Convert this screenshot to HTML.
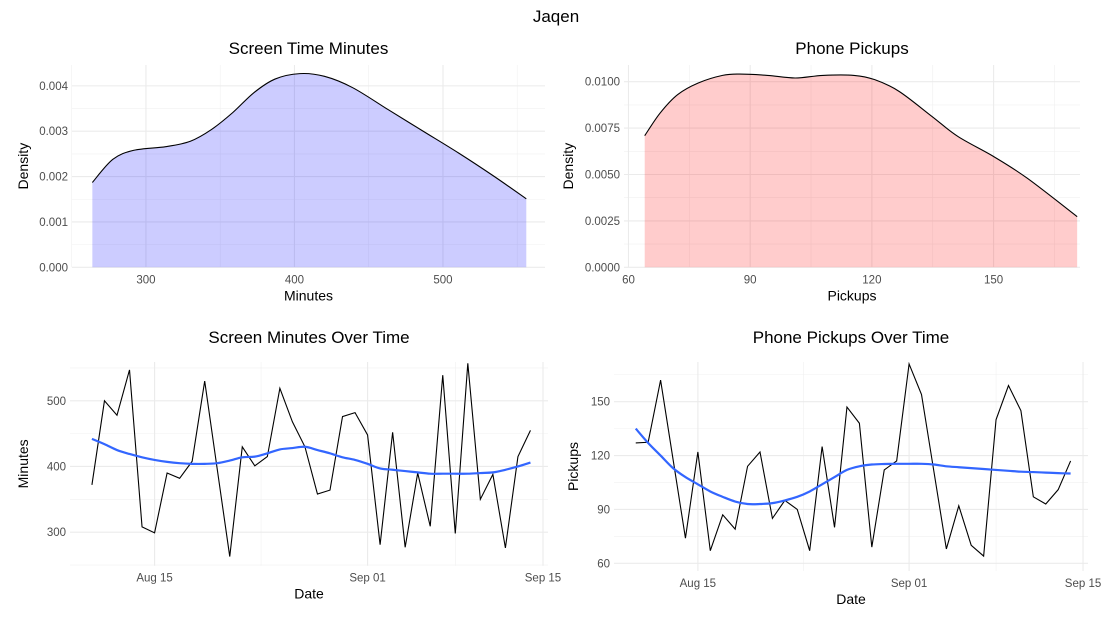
<!DOCTYPE html>
<html><head><meta charset="utf-8"><style>
html,body{margin:0;padding:0;background:#fff;}
svg{display:block;font-family:"Liberation Sans",Arial,sans-serif;}
</style></head><body>
<svg id="chart" width="1112" height="618" viewBox="0 0 1112 618" xmlns="http://www.w3.org/2000/svg">
<text x="556" y="22" text-anchor="middle" font-size="17" fill="#000">Jaqen</text>
</svg>
<script>
// ---- Data: Screen time density ----
const stDensX = [263.9,277.7,291.9,313.3,329.9,344.2,358.4,372.7,386.9,403.6,420.2,439.2,462.9,486.7,510.5,534.2,556.1];
const stDensY = [0.00187,0.00238,0.00258,0.00266,0.00278,0.00304,0.00341,0.00385,0.00415,0.00427,0.00421,0.00396,0.00348,0.00300,0.00252,0.00201,0.00151];
const stDensXTicks = [300,400,500];
const stDensYTicks = [0,0.001,0.002,0.003,0.004];
const stDensYLabels = ["0.000","0.001","0.002","0.003","0.004"];
// ---- Data: Pickups density ----
const pkDensX = [64,67.8,72.1,77.2,83.2,87.4,94.3,101.1,107.9,115.6,120.7,126.7,134.8,141.2,150,158.3,170.6];
const pkDensY = [0.00709,0.00831,0.0093,0.00993,0.01034,0.01041,0.01034,0.0102,0.01034,0.01034,0.01011,0.00948,0.00813,0.00705,0.00597,0.0048,0.00273];
const pkDensXTicks = [60,90,120,150];
const pkDensYTicks = [0,0.0025,0.005,0.0075,0.01];
const pkDensYLabels = ["0.0000","0.0025","0.0050","0.0075","0.0100"];
// ---- Data: time series (day offsets from Aug 10) ----
const dayIndex = [0,1,2,3,4,5,6,7,8,9,10,11,12,13,14,15,16,17,18,19,20,21,22,23,24,25,26,27,28,29,30,31,32,33,34,35];
const minutesSeries = [372,500,478,547,308,299,390,382,408,530,396,263,430,401,415,519,468,430,358,364,476,482,448,281,452,277,390,309,539,298,557,350,388,276,415,455];
const minutesSmooth = [442,434,425,419,414,410,407,405,404,404,405,409,414,415,420,426,428,430,425,420,414,410,404,397,395,393,391,389,389,389,389,390,391,395,400,406];
const pickupsSeries = [127,127.4,162,118,74,122,67,87,79,114,122,85,95,90,67,125,80,147,138,69,112,117,171,154,111,68,92,70,64,140,159,145,97,93,101,117];
const pickupsSmooth = [135,127,120,113,108,104,100,97,94.4,93,93,93.5,95,97,100,104,108,112,114,115,115.3,115.4,115.4,115.4,115,114,113.5,113,112.5,112,111.5,111,110.8,110.5,110.2,110];
const dateTicks = [5,22,36];
const dateTickLabels = ["Aug 15","Sep 01","Sep 15"];
const minTicks = [300,400,500];
const pkTicks = [60,90,120,150];

const svg = document.getElementById('chart');
const NS = 'http://www.w3.org/2000/svg';
function mk(tag, attrs, parent){const e=document.createElementNS(NS,tag);for(const k in attrs)e.setAttribute(k,attrs[k]);(parent||svg).appendChild(e);return e;}
function lin(d0,d1,r0,r1){return v=>r0+(v-d0)/(d1-d0)*(r1-r0);}
function smoothPath(pts){
  let d=`M${pts[0][0]},${pts[0][1]}`;
  for(let i=0;i<pts.length-1;i++){
    const p0=pts[i-1]||pts[i],p1=pts[i],p2=pts[i+1],p3=pts[i+2]||p2;
    const c1=[p1[0]+(p2[0]-p0[0])/6,p1[1]+(p2[1]-p0[1])/6];
    const c2=[p2[0]-(p3[0]-p1[0])/6,p2[1]-(p3[1]-p1[1])/6];
    d+=`C${c1[0]},${c1[1]} ${c2[0]},${c2[1]} ${p2[0]},${p2[1]}`;
  }
  return d;
}

function panel(cfg){
  const g=mk('g',{});
  
  
  const sx=lin(cfg.xd[0],cfg.xd[1],cfg.x0,cfg.x1), sy=lin(cfg.yd[0],cfg.yd[1],cfg.y0,cfg.y1);
  const minorX=[],minorY=[];
  for(let i=0;i<cfg.xt.length-1;i++)minorX.push((cfg.xt[i]+cfg.xt[i+1])/2);
  if(cfg.xt.length>1){const s=cfg.xt[1]-cfg.xt[0];minorX.push(cfg.xt[0]-s/2);minorX.push(cfg.xt[cfg.xt.length-1]+s/2);}
  for(let i=0;i<cfg.yt.length-1;i++)minorY.push((cfg.yt[i]+cfg.yt[i+1])/2);
  if(cfg.yt.length>1){const s=cfg.yt[1]-cfg.yt[0];minorY.push(cfg.yt[0]-s/2);minorY.push(cfg.yt[cfg.yt.length-1]+s/2);}
  const L=Math.min(cfg.x0,cfg.x1),R=Math.max(cfg.x0,cfg.x1),T=cfg.y1,B=cfg.y0;
  minorX.forEach(v=>{const x=sx(v);if(x>=L-0.5&&x<=R+0.5){const l=mk('line',{x1:x,x2:x,y1:T,y2:B,stroke:'#f0f0f0','stroke-width':0.6},g);}});
  minorY.forEach(v=>{const y=sy(v);if(y>=T-0.5&&y<=B+0.5){const l=mk('line',{x1:L,x2:R,y1:y,y2:y,stroke:'#f0f0f0','stroke-width':0.6},g);}});
  cfg.xt.forEach((v,i)=>{const x=sx(v);
    const l=mk('line',{x1:x,x2:x,y1:T,y2:B,stroke:'#ebebeb','stroke-width':1.1},g);
    
    const t=mk('text',{x:x,y:B+16,'text-anchor':'middle','font-size':11.5,fill:'#4d4d4d'},g);t.textContent=cfg.xl[i];
    });
  cfg.yt.forEach((v,i)=>{const y=sy(v);
    const l=mk('line',{x1:L,x2:R,y1:y,y2:y,stroke:'#ebebeb','stroke-width':1.1},g);
    
    const t=mk('text',{x:L-4,y:y+4,'text-anchor':'end','font-size':11.5,fill:'#4d4d4d'},g);t.textContent=cfg.yl[i];
    });
  const tt=mk('text',{x:(L+R)/2,y:cfg.titleY,'text-anchor':'middle','font-size':17,fill:'#000'},g);tt.textContent=cfg.title;
  
  const xt=mk('text',{x:(L+R)/2,y:B+33,'text-anchor':'middle','font-size':14,fill:'#000'},g);xt.textContent=cfg.xlab;
  
  const yx=cfg.ylabX,yy=(T+B)/2;
  const yt=mk('text',{x:yx,y:yy,'text-anchor':'middle','font-size':14,fill:'#000',transform:`rotate(-90 ${yx} ${yy})`},g);yt.textContent=cfg.ylab;
  
  return {g,sx,sy};
}

function densityMarks(p,xs,ys,color){
  const pts=xs.map((x,i)=>[p.sx(x),p.sy(ys[i])]);
  const curve=smoothPath(pts);
  const d=`M${pts[0][0]},${p.sy(0)}L`+curve.slice(1)+`L${pts[pts.length-1][0]},${p.sy(0)}Z`;
  const a=mk('path',{d,fill:color,'fill-opacity':0.2,stroke:'none'},p.g);
  
  const l=mk('path',{d:curve,fill:'none',stroke:'#000','stroke-width':1.1},p.g);
  
}

// Top-left density
(function(){
  const p=panel({name:'screen-time-density-panel',x0:72,x1:545,xd:[250.2,568.7],y0:267.3,y1:65,yd:[0,0.00446],
    xt:stDensXTicks,xl:stDensXTicks.map(String),yt:stDensYTicks,yl:stDensYLabels,
    title:'Screen Time Minutes',titleY:54,xlab:'Minutes',ylab:'Density',ylabX:28});
  densityMarks(p,stDensX,stDensY,'#0000ff');
})();

// Top-right density
(function(){
  const p=panel({name:'phone-pickups-density-panel',x0:624,x1:1080,xd:[58.9,171.3],y0:267.3,y1:65,yd:[0,0.0109],
    xt:pkDensXTicks,xl:pkDensXTicks.map(String),yt:pkDensYTicks,yl:pkDensYLabels,
    title:'Phone Pickups',titleY:54,xlab:'Pickups',ylab:'Density',ylabX:573});
  densityMarks(p,pkDensX,pkDensY,'#ff0000');
})();

// Bottom-left time series
(function(){
  const p=panel({name:'screen-minutes-over-time-panel',x0:70,x1:548,xd:[-1.75,36.4],y0:565.7,y1:362,yd:[249,559],
    xt:dateTicks,xl:dateTickLabels,yt:minTicks,yl:minTicks.map(String),
    title:'Screen Minutes Over Time',titleY:343,xlab:'Date',ylab:'Minutes',ylabX:28});
  const l=mk('path',{d:dayIndex.map((x,i)=>(i?'L':'M')+p.sx(x)+','+p.sy(minutesSeries[i])).join(''),fill:'none',stroke:'#000','stroke-width':1.1},p.g);
  
  const s=mk('path',{d:smoothPath(dayIndex.map((x,i)=>[p.sx(x),p.sy(minutesSmooth[i])])),fill:'none',stroke:'#3366ff','stroke-width':2.2},p.g);
  
})();

// Bottom-right time series
(function(){
  const p=panel({name:'phone-pickups-over-time-panel',x0:614,x1:1088,xd:[-1.75,36.4],y0:571,y1:362,yd:[55.7,172.1],
    xt:dateTicks,xl:dateTickLabels,yt:pkTicks,yl:pkTicks.map(String),
    title:'Phone Pickups Over Time',titleY:343,xlab:'Date',ylab:'Pickups',ylabX:578});
  const l=mk('path',{d:dayIndex.map((x,i)=>(i?'L':'M')+p.sx(x)+','+p.sy(pickupsSeries[i])).join(''),fill:'none',stroke:'#000','stroke-width':1.1},p.g);
  
  const s=mk('path',{d:smoothPath(dayIndex.map((x,i)=>[p.sx(x),p.sy(pickupsSmooth[i])])),fill:'none',stroke:'#3366ff','stroke-width':2.2},p.g);
  
})();
</script>
</body></html>
